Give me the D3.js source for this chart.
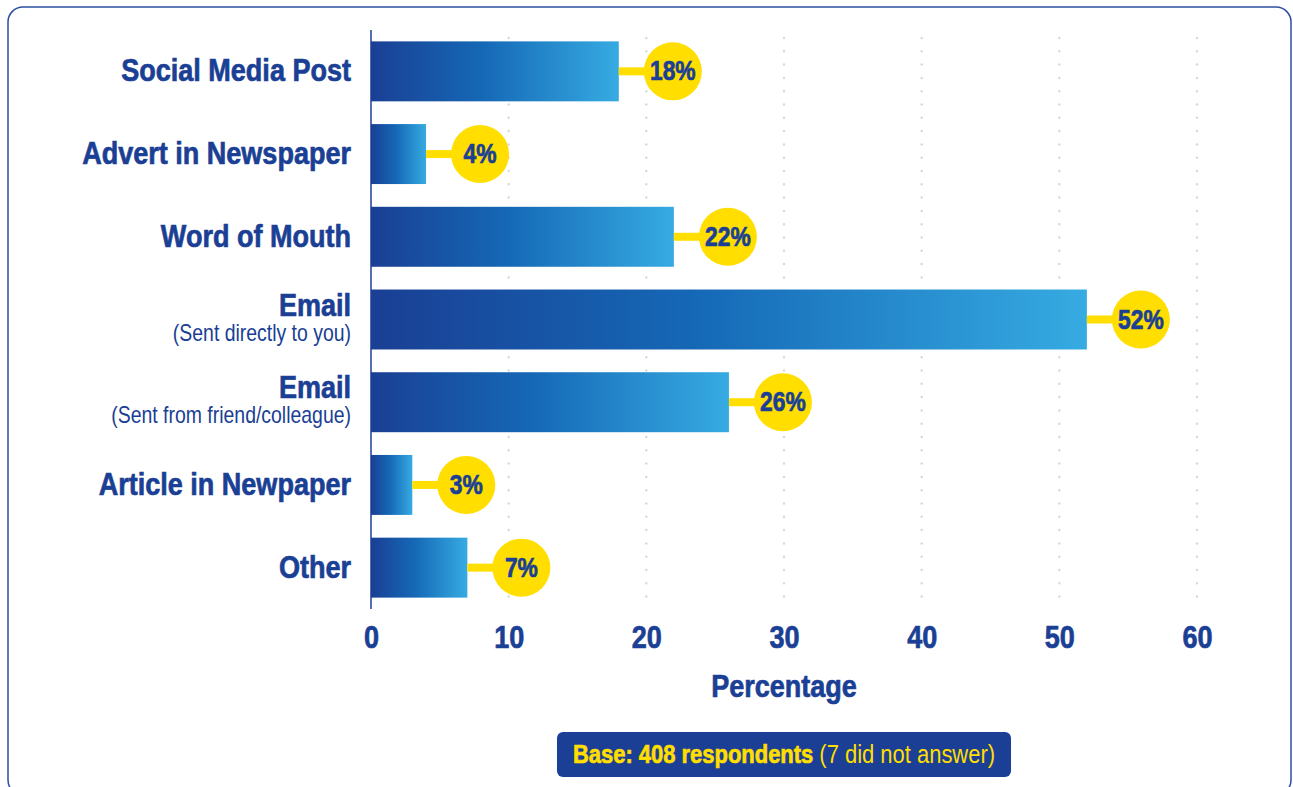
<!DOCTYPE html>
<html>
<head>
<meta charset="utf-8">
<script src="https://cdn.jsdelivr.net/npm/d3@7"></script>
<style>
  body { margin: 0; background: #fff; }
  text { font-family: "Liberation Sans", Arial, sans-serif; }
</style>
</head>
<body>
<svg id="chart" width="1293" height="787"></svg>
<script>
// data
var categories = ['Social Media Post', 'Advert in Newspaper', 'Word of Mouth', 'Email', 'Email', 'Article in Newpaper', 'Other'];
var subLabels = ['', '', '', '(Sent directly to you)', '(Sent from friend/colleague)', '', ''];
var values = [18, 4, 22, 52, 26, 3, 7];
var xTicks = [0, 10, 20, 30, 40, 50, 60];
var axisTitle = 'Percentage';
var baseNoteBold = 'Base: 408 respondents';
var baseNoteLight = '(7 did not answer)';

var navy = '#1a3f94', yellow = '#ffde00';
var squeeze = 0.845; // no condensed font installed, so narrow the text by hand
var rows = categories.map(function(c, i){ return { i: i, name: c, sub: subLabels[i], value: values[i] }; });

var svg = d3.select('#chart');

function place(x, y){ return 'translate(' + x + ',' + y + ') scale(' + squeeze + ',1)'; }
// heavier look for the bold labels
function heavy(sel, col){ sel.style('font-weight', 'bold').style('fill', col).style('stroke', col).style('stroke-width', 0.7); }

// outer frame
svg.append('rect')
  .attr('x', 8).attr('y', 7).attr('width', 1283).attr('height', 788)
  .attr('rx', 15).attr('ry', 15)
  .style('fill', 'none').style('stroke', '#2d4fa0').style('stroke-width', 1.5);

// scales
var x = d3.scaleLinear().domain([0, 60]).range([371, 1197]);
var y = d3.scaleBand().domain(d3.range(rows.length)).range([30, 609]).paddingInner(0.275).paddingOuter(0.1375);

// gradient for bars
var defs = svg.append('defs');
var grad = defs.append('linearGradient').attr('id', 'barGrad')
  .attr('x1', '0%').attr('x2', '100%').attr('y1', '0%').attr('y2', '0%');
grad.append('stop').attr('offset', '0%').attr('stop-color', '#1a3f94');
grad.append('stop').attr('offset', '45%').attr('stop-color', '#1568b6');
grad.append('stop').attr('offset', '100%').attr('stop-color', '#36abe2');

// dotted grid lines
svg.append('g').selectAll('line').data(xTicks.slice(1)).enter().append('line')
  .attr('x1', function(d){ return x(d); }).attr('x2', function(d){ return x(d); })
  .attr('y1', 38).attr('y2', 609)
  .style('stroke', '#d9d9d9').style('stroke-width', 2.5)
  .style('stroke-dasharray', '0 13.3').style('stroke-linecap', 'round');

// x axis labels
var xAxis = d3.axisBottom(x).tickValues(xTicks).tickSize(0).tickPadding(0);
var axisG = svg.append('g').attr('transform', 'translate(0,609)').call(xAxis);
axisG.select('.domain').remove();
axisG.selectAll('text')
  .attr('y', null).attr('dy', null)
  .attr('transform', place(0, 39))
  .style('font-family', '"Liberation Sans", Arial, sans-serif')
  .style('font-size', '32px')
  .call(heavy, navy);

svg.append('text')
  .attr('transform', place((x(0) + x(60)) / 2, 697))
  .style('text-anchor', 'middle').style('font-size', '32px')
  .call(heavy, navy)
  .text(axisTitle);

// bars
svg.append('g').selectAll('rect').data(rows).enter().append('rect')
  .attr('x', x(0)).attr('y', function(d){ return y(d.i); })
  .attr('width', function(d){ return x(d.value) - x(0); })
  .attr('height', y.bandwidth())
  .style('fill', 'url(#barGrad)');

// y axis line
svg.append('line')
  .attr('x1', x(0)).attr('x2', x(0)).attr('y1', 30).attr('y2', 609)
  .style('stroke', navy).style('stroke-width', 1.5);

// category labels
var labelG = svg.append('g').selectAll('g').data(rows).enter().append('g')
  .attr('transform', function(d){ return 'translate(351,' + (y(d.i) + y.bandwidth() / 2) + ')'; });
labelG.append('text')
  .attr('transform', function(d){ return place(0, d.sub ? -4 : 10); })
  .style('text-anchor', 'end').style('font-size', '32px')
  .call(heavy, navy)
  .text(function(d){ return d.name; });
labelG.filter(function(d){ return d.sub; }).append('text')
  .attr('transform', place(0, 21))
  .style('text-anchor', 'end').style('font-size', '23px').style('fill', navy)
  .text(function(d){ return d.sub; });

// value bubbles
var bub = svg.append('g').selectAll('g').data(rows).enter().append('g')
  .attr('transform', function(d){ return 'translate(' + x(d.value) + ',' + (y(d.i) + y.bandwidth() / 2) + ')'; });
bub.append('rect').attr('x', 0).attr('y', -4).attr('width', 40).attr('height', 8).style('fill', yellow);
bub.append('circle').attr('cx', 54).attr('cy', 0).attr('r', 29).style('fill', yellow);
bub.append('text')
  .attr('transform', place(54, 9))
  .style('text-anchor', 'middle').style('font-size', '27px')
  .call(heavy, navy)
  .text(function(d){ return d.value + '%'; });

// base note
var note = svg.append('g');
note.append('rect').attr('x', 557).attr('y', 732).attr('width', 454).attr('height', 45).attr('rx', 6)
  .style('fill', navy);
var noteText = note.append('text').attr('transform', place(784, 763))
  .style('text-anchor', 'middle').style('font-size', '26px').style('fill', yellow);
noteText.append('tspan').call(heavy, yellow).text(baseNoteBold + ' ');
noteText.append('tspan').text(baseNoteLight);
</script>
</body>
</html>
